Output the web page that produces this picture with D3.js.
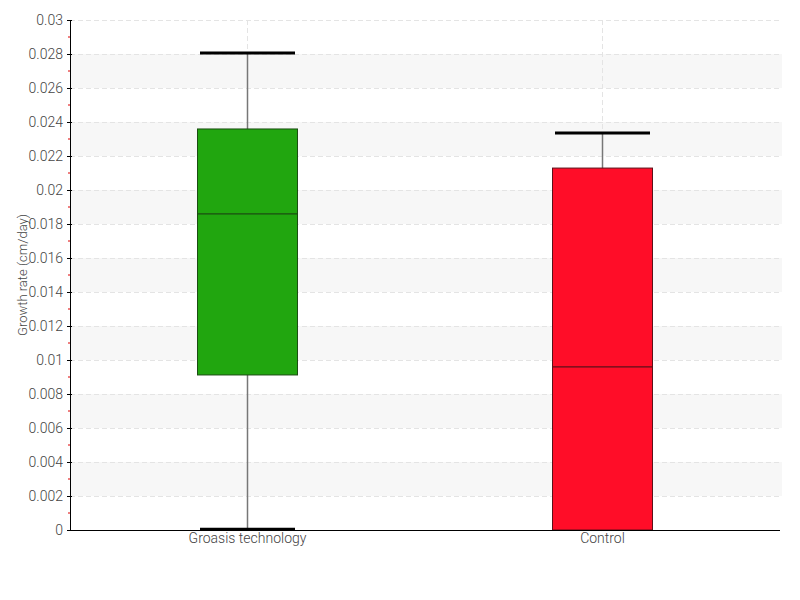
<!DOCTYPE html>
<html>
<head>
<meta charset="utf-8">
<script src="https://cdn.jsdelivr.net/npm/d3@7"></script>
<style>
  body { margin: 0; background: #fff; }
  svg text { font-family: "Roboto", "DejaVu Sans Condensed", sans-serif; font-weight: 300; fill: #444; }
</style>
</head>
<body>
<div id="chart"></div>
<script>
// data
const categories = ["Groasis technology", "Control"];
const whiskerLow = [0.00005, 0];
const q1Values = [0.00912, 0];
const medianValues = [0.01859, 0.00959];
const q3Values = [0.02359, 0.02129];
const whiskerHigh = [0.02806, 0.02335];
const boxColors = ["#21a60f", "#ff0d28"];
const boxEdges = ["#1b4d12", "#5c1019"];
const yTicks = d3.range(0, 0.0301, 0.002);

const width = 800, height = 600;
const margin = { top: 20, right: 20, bottom: 70, left: 70 };

const svg = d3.select("#chart").append("svg")
    .attr("width", width).attr("height", height);

const x = d3.scaleBand().domain(categories)
    .range([margin.left, width - margin.right]);
const y = d3.scaleLinear().domain([0, 0.03])
    .range([height - margin.bottom, margin.top]);

const boxes = categories.map((c, i) => ({
    name: c, lo: whiskerLow[i], q1: q1Values[i], med: medianValues[i],
    q3: q3Values[i], hi: whiskerHigh[i], fill: boxColors[i], edge: boxEdges[i]
}));

// alternating bands
const bands = yTicks.slice(0, -1).filter((t, i) => i % 2 == 1);
svg.selectAll("rect.band").data(bands).enter().append("rect")
    .attr("class", "band")
    .attr("x", margin.left + 1)
    .attr("width", width - margin.right - margin.left + 1)
    .attr("y", d => y(d + 0.002))
    .attr("height", d => y(d) - y(d + 0.002))
    .attr("fill", "#f7f7f7");

// horizontal grid
svg.selectAll("line.hgrid").data(yTicks.slice(1)).enter().append("line")
    .attr("x1", margin.left).attr("x2", width - margin.right)
    .attr("y1", d => Math.round(y(d)) + 0.5).attr("y2", d => Math.round(y(d)) + 0.5)
    .attr("stroke", "#e4e4e4").attr("stroke-dasharray", "5,3");

// vertical grid
svg.selectAll("line.vgrid").data(categories).enter().append("line")
    .attr("x1", d => x(d) + x.bandwidth() / 2).attr("x2", d => x(d) + x.bandwidth() / 2)
    .attr("y1", margin.top).attr("y2", height - margin.bottom)
    .attr("stroke", "#e4e4e4").attr("stroke-dasharray", "5,3");

const boxW = 100, capW = 95;
const g = svg.selectAll("g.box").data(boxes).enter().append("g");

g.append("line")
    .attr("x1", d => x(d.name) + x.bandwidth() / 2).attr("x2", d => x(d.name) + x.bandwidth() / 2)
    .attr("y1", d => y(d.lo)).attr("y2", d => y(d.hi))
    .attr("stroke", "#777").attr("stroke-width", 1.5);

g.append("rect")
    .attr("x", d => x(d.name) + x.bandwidth() / 2 - boxW / 2)
    .attr("width", boxW)
    .attr("y", d => y(d.q3))
    .attr("height", d => y(d.q1) - y(d.q3))
    .attr("fill", d => d.fill)
    .attr("stroke", d => d.edge).attr("stroke-width", 1);

g.append("line")
    .attr("x1", d => x(d.name) + x.bandwidth() / 2 - boxW / 2)
    .attr("x2", d => x(d.name) + x.bandwidth() / 2 + boxW / 2)
    .attr("y1", d => y(d.med)).attr("y2", d => y(d.med))
    .attr("stroke", d => d.edge).attr("stroke-width", 1.2);

// whisker caps
["hi", "lo"].forEach(k => {
    g.filter(d => d[k] > 0).append("line")
        .attr("x1", d => x(d.name) + x.bandwidth() / 2 - capW / 2)
        .attr("x2", d => x(d.name) + x.bandwidth() / 2 + capW / 2)
        .attr("y1", d => y(d[k])).attr("y2", d => y(d[k]))
        .attr("stroke", "#000").attr("stroke-width", 3);
});

// y axis
const yAxis = d3.axisLeft(y).tickValues(yTicks)
    .tickFormat(d => d3.format("~g")(+d.toFixed(4)))
    .tickSize(3).tickPadding(4);
const ya = svg.append("g").attr("transform", `translate(${margin.left},0)`).call(yAxis);
ya.select(".domain").attr("stroke", "#000");
ya.selectAll(".tick line").attr("stroke", "#000").attr("x2", 2).attr("x1", -3);
ya.selectAll(".tick text").attr("font-size", 14).attr("fill", "#444");

// minor ticks
const minor = yTicks.slice(0, -1).map(t => t + 0.001);
svg.selectAll("line.minor").data(minor).enter().append("line")
    .attr("x1", margin.left - 2).attr("x2", margin.left)
    .attr("y1", d => y(d)).attr("y2", d => y(d))
    .attr("stroke", "#d00");

// x axis
const xAxis = d3.axisBottom(x).tickSize(0).tickPadding(3);
const xa = svg.append("g").attr("transform", `translate(0,${height - margin.bottom})`).call(xAxis);
xa.select(".domain").attr("stroke", "#000").attr("d", `M${margin.left},0.5H${width - margin.right}`);
xa.selectAll(".tick text").attr("font-size", 14).attr("fill", "#444");

svg.append("text")
    .attr("transform", `translate(27,${(margin.top + height - margin.bottom) / 2}) rotate(-90)`)
    .attr("text-anchor", "middle")
    .attr("font-size", 13)
    .text("Growth rate (cm/day)");
</script>
</body>
</html>
